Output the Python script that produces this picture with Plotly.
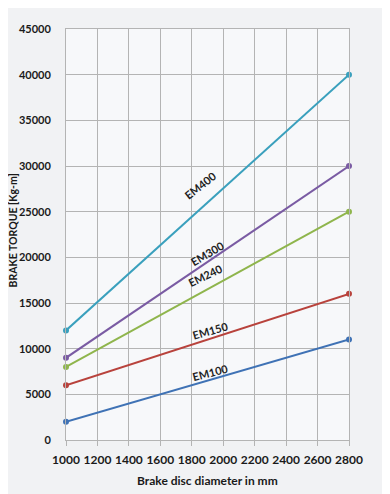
import plotly.graph_objects as go
import math

diameters = [1000, 2800]
series_names = ["EM100", "EM150", "EM240", "EM300", "EM400"]
em100 = [2000, 11000]
em150 = [6000, 16000]
em240 = [8000, 25000]
em300 = [9000, 30000]
em400 = [12000, 40000]
colors = ["#3f72b5", "#b8423c", "#8fb54c", "#7a5ba3", "#3aa0bd"]
x_ticks = [1000, 1200, 1400, 1600, 1800, 2000, 2200, 2400, 2600, 2800]
y_ticks = [0, 5000, 10000, 15000, 20000, 25000, 30000, 35000, 40000, 45000]

# label positions (data coords)
label_x = [1916, 1916, 1884, 1897, 1852]
label_y = [7445, 12044, 18066, 20475, 27920]

values = [em100, em150, em240, em300, em400]

FONT = "Lato"

fig = go.Figure()
for name, v, c in zip(series_names, values, colors):
    fig.add_trace(go.Scatter(x=diameters, y=v, mode="lines+markers", name=name,
                             line=dict(color=c, width=2), marker=dict(color=c, size=6),
                             showlegend=False, cliponaxis=False))

L, R, T, B = 58, 41, 21, 54
FW, FH = 382, 486
W = FW - L - R
H = FH - T - B
for name, v, lx, ly in zip(series_names, values, label_x, label_y):
    dy = (v[1] - v[0]) / 45000 * H
    ang = -math.degrees(math.atan2(dy, W)) * 0.9
    fig.add_annotation(x=lx, y=ly, text="<b>%s</b>" % name, showarrow=False,
                       textangle=ang, font=dict(size=11, color="#222222", family=FONT))

# axis titles as annotations
fig.add_annotation(xref="paper", yref="paper", x=-(L - 5) / W, y=0.51, text="<b>BRAKE TORQUE [Kg-m]</b>",
                   textangle=-90, showarrow=False, xanchor="center", yanchor="middle",
                   font=dict(size=10.5, color="#1a1a1a", family=FONT))
fig.add_annotation(xref="paper", yref="paper", x=0.5, y=-40 / H, text="<b>Brake disc diameter in mm</b>",
                   showarrow=False, xanchor="center", yanchor="middle",
                   font=dict(size=12, color="#1a1a1a", family=FONT))

fig.update_layout(
    width=FW, height=FH,
    margin=dict(l=L, r=R, t=T, b=B, autoexpand=False),
    paper_bgcolor="#f1f2f4",
    plot_bgcolor="#f7f8fa",
    font=dict(family=FONT, color="#1a1a1a"),
)
fig.update_xaxes(range=[1000, 2800], tickvals=x_ticks, ticktext=["<b>%d</b>" % t for t in x_ticks],
                 showgrid=True, gridcolor="#b4b4b4", gridwidth=1, zeroline=False, automargin=False,
                 ticks="outside", ticklen=5, tickcolor="#b4b4b4", ticklabelstandoff=4,
                 tickfont=dict(size=12), showline=True, linecolor="#b4b4b4", mirror=True)
fig.update_yaxes(range=[0, 45000], tickvals=y_ticks, ticktext=["<b>%d</b>" % t for t in y_ticks],
                 showgrid=True, gridcolor="#b4b4b4", gridwidth=1, zeroline=False, automargin=False,
                 ticks="", ticklabelstandoff=12, tickfont=dict(size=11), showline=True,
                 linecolor="#b4b4b4", mirror=True)

fig.write_html("out.html")
